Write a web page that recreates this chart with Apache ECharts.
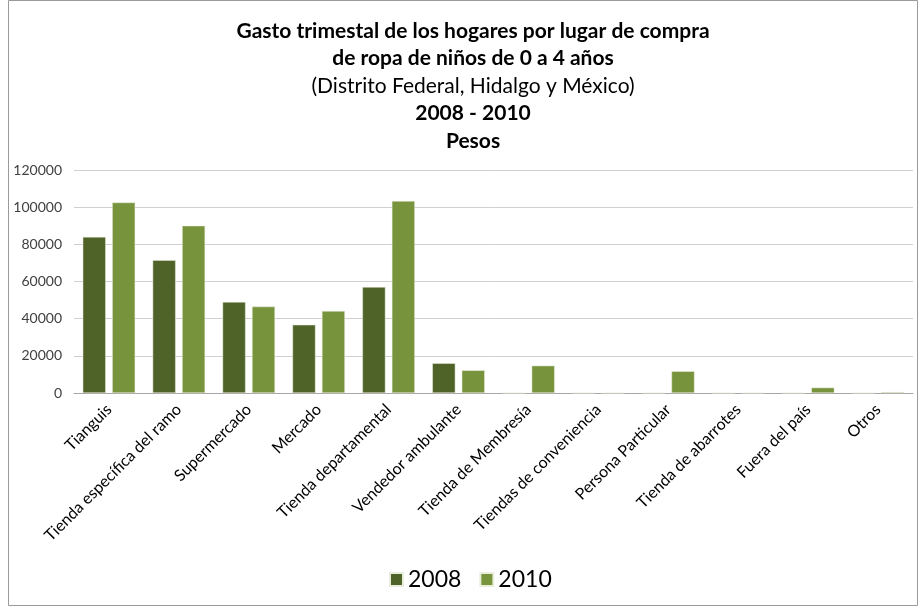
<!DOCTYPE html>
<html>
<head>
<meta charset="utf-8">
<script src="https://cdn.jsdelivr.net/npm/echarts@6/dist/echarts.min.js"></script>
<style>
  html, body { margin: 0; padding: 0; background: #fff; }
  #main { width: 919px; height: 607px; }
</style>
</head>
<body>
<div id="main"></div>
<script>
// datos
var categorias = ['Tianguis', 'Tienda específica del ramo', 'Supermercado', 'Mercado',
  'Tienda departamental', 'Vendedor ambulante', 'Tienda de Membresía',
  'Tiendas de conveniencia', 'Persona Particular', 'Tienda de abarrotes',
  'Fuera del país', 'Otros'];
var valores2008 = [84000, 71500, 49000, 36700, 57000, 16000, 0, 0, 0, 0, 0, 0];
var valores2010 = [102500, 90000, 46500, 44100, 103300, 12200, 14700, 0, 11700, 0, 2900, 500];
var ticksY = [0, 20000, 40000, 60000, 80000, 100000, 120000];

var chart = echarts.init(document.getElementById('main'));

var option = {
  backgroundColor: '#fff',
  animation: false,
  title: {
    left: 468,
    top: 12,
    textAlign: 'center',
    text: '{b|Gasto trimestal de los hogares por lugar de compra}\n{b|de ropa de niños de 0 a 4 años}\n{n|(Distrito Federal, Hidalgo y México)}\n{b|2008 - 2010}\n{b|Pesos}',
    textStyle: {
      rich: {
        b: { fontFamily: 'Lato', fontWeight: 'bold', fontSize: 21, color: '#000', lineHeight: 27.5 },
        n: { fontFamily: 'Lato', fontWeight: 'normal', fontSize: 21, color: '#000', lineHeight: 27.5 }
      }
    }
  },
  legend: {
    bottom: 11,
    left: 384,
    itemWidth: 13,
    itemHeight: 13,
    itemGap: 18,
    icon: 'rect',
    textStyle: { fontFamily: 'Lato', fontSize: 23, color: '#000' },
    data: ['2008', '2010']
  },
  grid: {
    left: 74,
    right: 6,
    top: 170,
    bottom: 214,
    containLabel: false
  },
  xAxis: {
    type: 'category',
    data: categorias,
    axisLine: { lineStyle: { color: '#a6a6a6' } },
    axisTick: { show: false },
    axisLabel: {
      rotate: 45,
      interval: 0,
      margin: 14,
      fontFamily: 'Lato',
      fontSize: 16,
      color: '#000'
    }
  },
  yAxis: {
    type: 'value',
    min: ticksY[0],
    max: ticksY[ticksY.length - 1],
    interval: 20000,
    axisLine: { show: false },
    axisTick: { show: false },
    splitLine: { lineStyle: { color: '#d0d0d0' } },
    axisLabel: {
      margin: 12,
      fontFamily: 'Lato',
      fontSize: 14,
      color: '#404040',
      formatter: function (v) { return String(v); }
    }
  },
  series: [
    {
      name: '2008',
      type: 'bar',
      data: valores2008,
      barWidth: 23,
      barGap: '28%',
      itemStyle: { color: '#4f6228', borderColor: '#e8eddc', borderWidth: 0.5 }
    },
    {
      name: '2010',
      type: 'bar',
      data: valores2010,
      barWidth: 23,
      itemStyle: { color: '#77933c', borderColor: '#e8eddc', borderWidth: 0.5 }
    }
  ],
  graphic: [{
    type: 'rect',
    shape: { x: 8.5, y: 0.5, width: 909, height: 605 },
    style: { fill: 'none', stroke: '#9a9a9a', lineWidth: 1 },
    silent: true
  }]
};

chart.setOption(option);
</script>
</body>
</html>
